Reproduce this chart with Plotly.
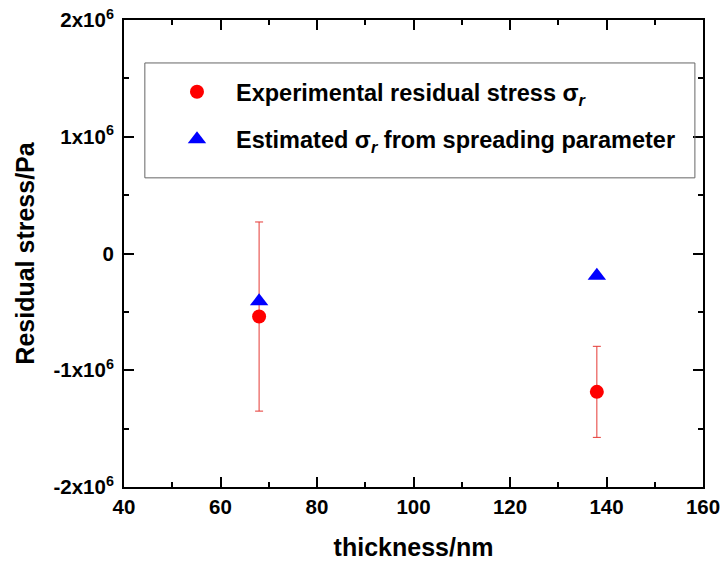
import plotly.graph_objects as go

thickness = [68, 138]
exp_stress = [-0.54e6, -1.185e6]
exp_err = [0.81e6, 0.39e6]
est_stress = [-0.41e6, -0.19e6]

y_tickvals = [-2e6, -1e6, 0, 1e6, 2e6]
y_ticktext = ["-2x10<sup>6</sup>", "-1x10<sup>6</sup>", "0", "1x10<sup>6</sup>", "2x10<sup>6</sup>"]
x_tickvals = [40, 60, 80, 100, 120, 140, 160]

_BLACK = "#000000"
_FONT = "Liberation Sans, Arial, sans-serif"

_AXIS = dict(
    showline=True, linecolor=_BLACK, linewidth=2, mirror="allticks",
    ticks="inside", ticklen=10, tickwidth=1.5, tickcolor=_BLACK,
    showgrid=False, zeroline=False,
    tickfont=dict(family=_FONT, size=20.5, color=_BLACK),
    title_font=dict(family=_FONT, size=25, color=_BLACK),
)

fig = go.Figure()
fig.add_trace(go.Scatter(
    x=thickness, y=exp_stress, mode="markers",
    name="<b>Experimental residual stress σ<sub><i>r</i></sub></b>",
    marker=dict(symbol="circle", size=14, color="#ff0000"),
    error_y=dict(type="data", array=exp_err, color="#e53935", thickness=1, width=4),
    legendgroup="a",
))
fig.add_trace(go.Scatter(
    x=thickness, y=est_stress, mode="markers",
    name="<b>Estimated σ<sub><i>r</i></sub> from spreading parameter</b>",
    marker=dict(symbol="triangle-up", size=16, color="#0000ff"),
    legendgroup="b",
))

# legend frame
fig.add_shape(
    type="rect", xref="paper", yref="paper",
    x0=0.036, x1=0.986, y0=0.662, y1=0.908,
    line=dict(color="#666666", width=1), fillcolor="rgba(0,0,0,0)",
)

fig.update_layout(
    width=724, height=567,
    paper_bgcolor="#ffffff", plot_bgcolor="#ffffff",
    template="none",
    margin=dict(l=124, r=21, t=20, b=80),
    font=dict(family=_FONT, color=_BLACK),
    xaxis=dict(
        title=dict(text="<b>thickness/nm</b>", standoff=22),
        range=[40, 160], tickvals=x_tickvals,
        ticktext=[f"<b>{v}</b>" for v in x_tickvals],
        minor=dict(ticks="inside", ticklen=5, tickwidth=1.5, tickcolor=_BLACK, dtick=10, tick0=40),
        **_AXIS,
    ),
    yaxis=dict(
        title=dict(text="<b>Residual stress/Pa</b>", standoff=12),
        range=[-2e6, 2e6], tickvals=y_tickvals,
        ticktext=[f"<b>{t}</b>" for t in y_ticktext],
        ticklabelstandoff=4,
        minor=dict(ticks="inside", ticklen=5, tickwidth=1.5, tickcolor=_BLACK, dtick=0.5e6, tick0=0),
        **_AXIS,
    ),
    showlegend=True,
    legend=dict(
        x=0.0587, y=0.893, xanchor="left", yanchor="top",
        borderwidth=0, bgcolor="rgba(0,0,0,0)",
        font=dict(family=_FONT, size=23.5, color=_BLACK),
        tracegroupgap=14, itemwidth=68,
    ),
)

# drop the default 8px body margin so the figure fills the window
fig.write_html(
    "out.html",
    config={"displayModeBar": False},
    post_script="document.body.style.margin='0';",
)
